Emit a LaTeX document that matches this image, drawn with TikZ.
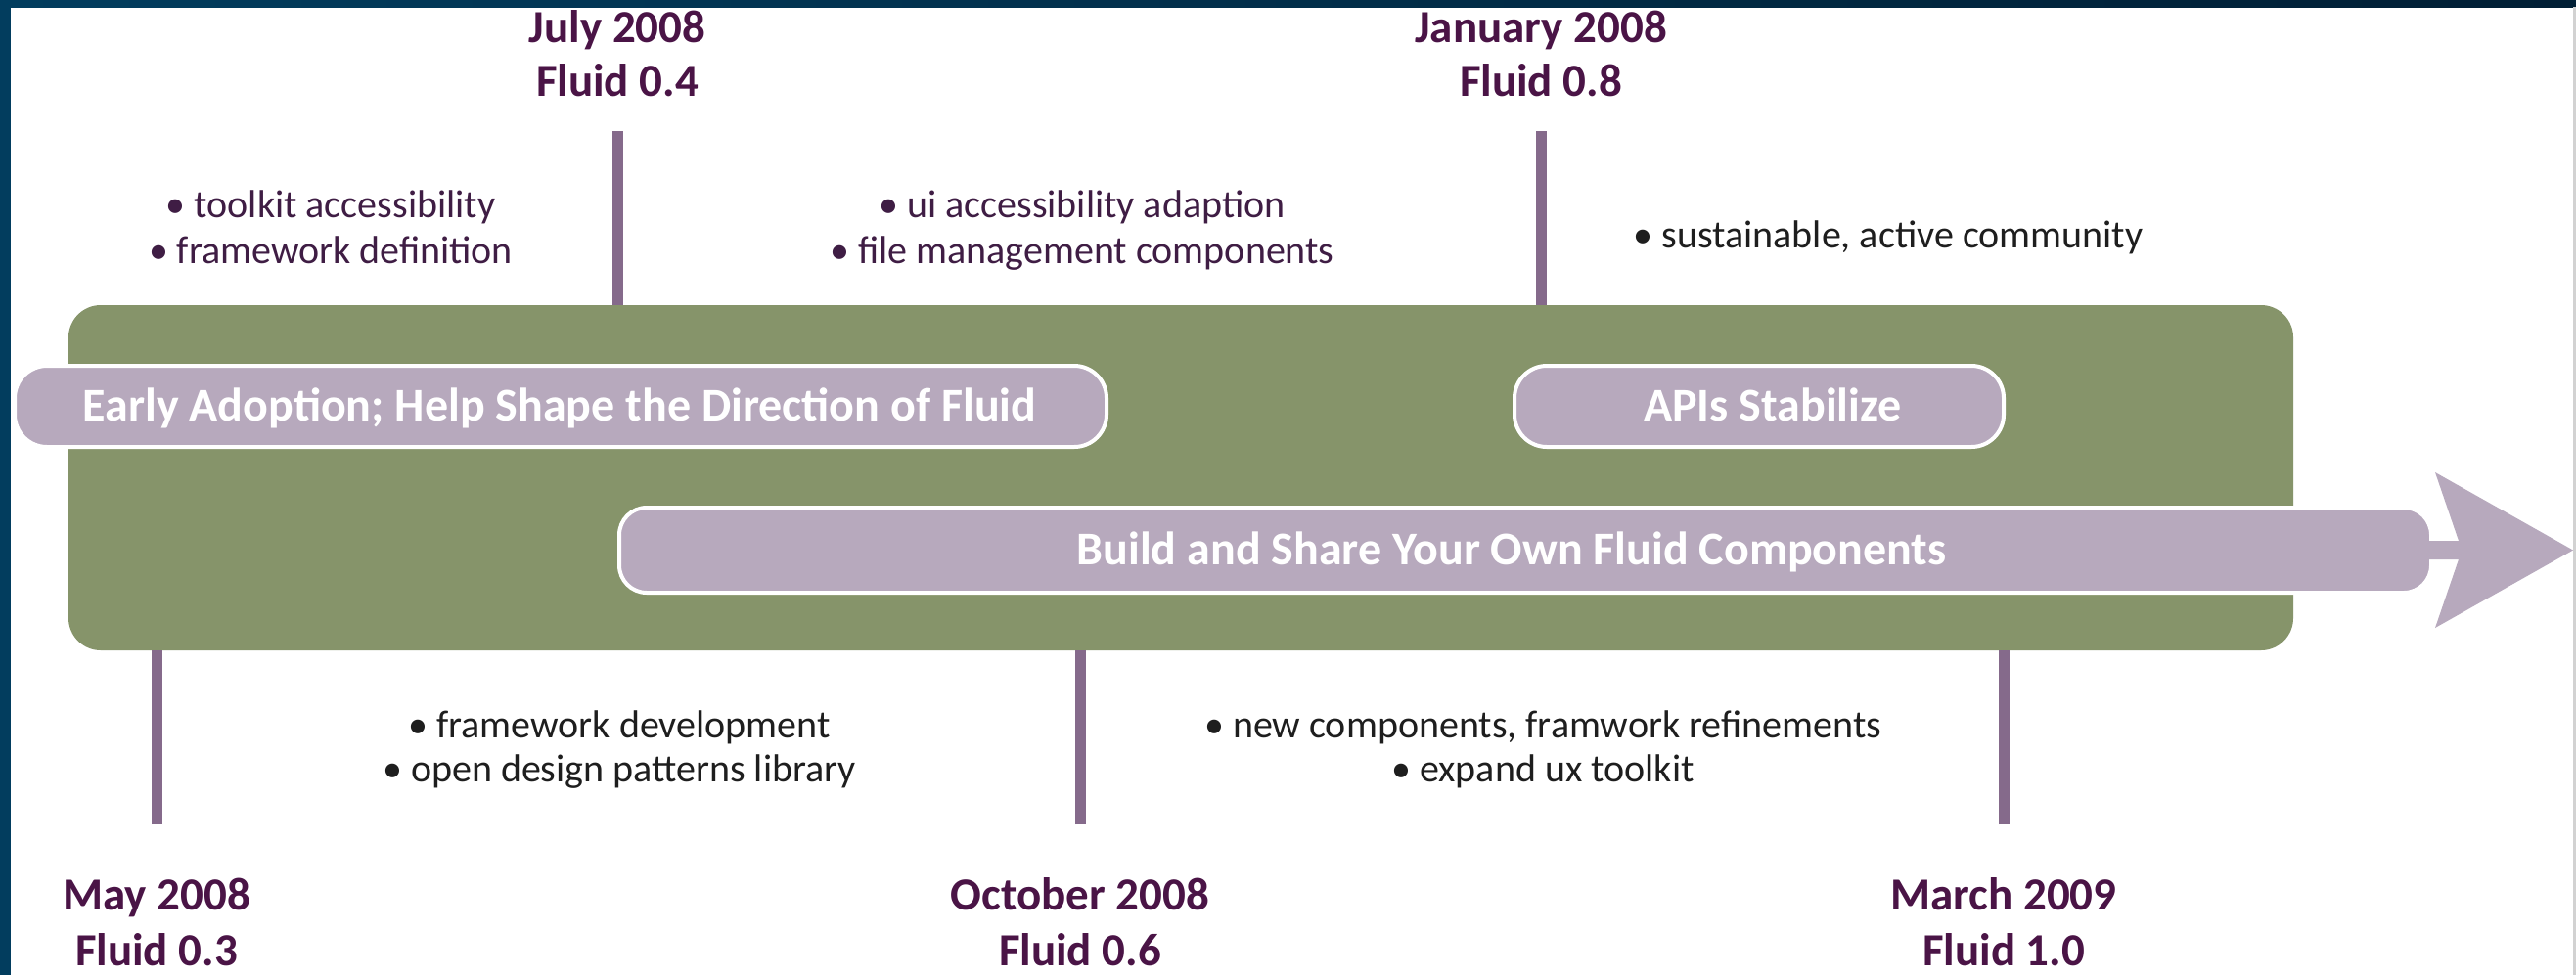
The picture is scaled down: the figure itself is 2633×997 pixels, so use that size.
\documentclass[tikz,border=0pt]{standalone}
\usepackage{fontspec}
\setmainfont{Carlito}
\definecolor{plum}{HTML}{4A1446}
\definecolor{plumtxt}{HTML}{3F1D44}
\definecolor{graytxt}{HTML}{1E1E1E}
\definecolor{olive}{HTML}{86946A}
\definecolor{lav}{HTML}{B7A9BD}
\definecolor{tickc}{HTML}{856A8B}
\definecolor{bandL}{HTML}{023D5E}
\definecolor{bandR}{HTML}{011F35}
\begin{document}
\begin{tikzpicture}[x=1pt,y=-1pt,
  lab/.style={font=\fontsize{47}{47}\selectfont\bfseries, text=plum, anchor=base, inner sep=0pt},
  bul/.style={font=\fontsize{40}{40}\selectfont, anchor=base, inner sep=0pt},
  bultop/.style={bul, text=plumtxt},
  bulbot/.style={bul, text=graytxt},
  pilltxt/.style={font=\fontsize{48}{48}\selectfont\bfseries, text=white, anchor=base, inner sep=0pt},
  pill/.style={fill=lav, draw=white, line width=4pt, rounded corners=33pt, inner sep=0pt, minimum height=83pt},
  tick/.style={draw=tickc, line width=11pt}]

\useasboundingbox (0,0) rectangle (2633,997);
\fill[white] (0,0) rectangle (2633,997);
\fill[left color=bandL, right color=bandR] (0,0) rectangle (2633,7);
\fill[bandL] (0,0) rectangle (11,997);
\fill[gray!35] (2630,7) rectangle (2633,997);

% green bar
\node[fill=olive, rounded corners=33pt, inner sep=0pt, minimum width=2274pt, minimum height=353pt] (bar) at (1207,488.5) {};

% top labels
\node[lab] (julA) at (631,43) {July 2008};
\node[lab] (julB) at (631,98) {Fluid 0.4};
\node[lab] (janA) at (1575,43) {January 2008};
\node[lab] (janB) at (1575,98) {Fluid 0.8};

% bottom labels
\node[lab] (mayA) at (160,930) {May 2008};
\node[lab] (mayB) at (160,987) {Fluid 0.3};
\node[lab] (octA) at (1104,930) {October 2008};
\node[lab] (octB) at (1104,987) {Fluid 0.6};
\node[lab] (marA) at (2048,930) {March 2009};
\node[lab] (marB) at (2048,987) {Fluid 1.0};

% tick ends
\coordinate (tJul) at (631,134);
\coordinate (tJan) at (1575,134);
\coordinate (tMay) at (160,843);
\coordinate (tOct) at (1104,843);
\coordinate (tMar) at (2048,843);

\draw[tick] (tJul) -- (tJul |- bar.north);
\draw[tick] (tJan) -- (tJan |- bar.north);
\draw[tick] (tMay) -- (tMay |- bar.south);
\draw[tick] (tOct) -- (tOct |- bar.south);
\draw[tick] (tMar) -- (tMar |- bar.south);

% bullets top
\node[bultop] (b1a) at (338,222) {• toolkit accessibility};
\node[bultop] (b1b) at (338,269) {• framework definition};
\node[bultop] (b2a) at (1106,222) {• ui accessibility adaption};
\node[bultop] (b2b) at (1106,269) {• file management components};
\node[bulbot] (b3a) at (1930,253) {• sustainable, active community};

% bullets bottom
\node[bulbot] (b4a) at (633,754) {• framework development};
\node[bulbot] (b4b) at (633,799) {• open design patterns library};
\node[bulbot] (b5a) at (1577,754) {• new components, framwork refinements};
\node[bulbot] (b5b) at (1577,799) {• expand ux toolkit};

% pills
\node[pill, minimum width=1116pt] (p1) at (573,415.5) {};
\node[pilltxt] (p1t) at (572,430) {Early Adoption; Help Shape the Direction of Fluid};
\node[pill, minimum width=500pt] (p2) at (1798,415.5) {};
\node[pilltxt] (p2t) at (1812,430) {APIs Stabilize};

% arrow
\node[pill, minimum width=1852pt, minimum height=87pt, rounded corners=28pt] (p3) at (1559,562.5) {};
\coordinate (ahTip) at (2630,562.5);
\fill[lav] (2470,553) -- (2513,553) -- (2489,483) -- (ahTip) -- (2489,642) -- (2513,572) -- (2470,572) -- cycle;
\node[pilltxt] (p3t) at (1545,577) {Build and Share Your Own Fluid Components};
\end{tikzpicture}
\end{document}
